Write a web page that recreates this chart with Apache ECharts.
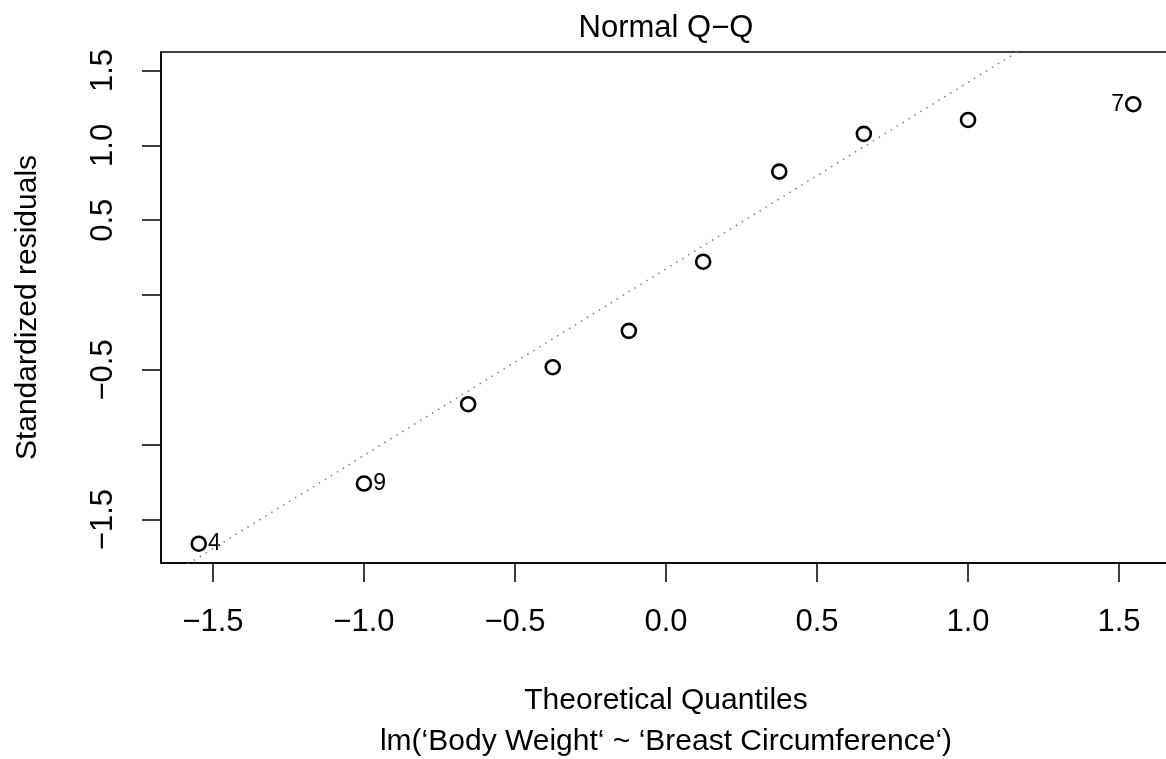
<!DOCTYPE html>
<html>
<head>
<meta charset="utf-8">
<script src="https://cdn.jsdelivr.net/npm/echarts@6/dist/echarts.min.js"></script>
<style>
  html, body { margin: 0; padding: 0; background: #fff; }
  #qq { width: 1166px; height: 759px; }
</style>
</head>
<body>
<div id="qq"></div>
<script>
// theoretical quantiles and standardized residuals
var theoQ = [-1.547, -1.000, -0.655, -0.375, -0.123, 0.123, 0.375, 0.655, 1.000, 1.547];
var stdRes = [-1.661, -1.259, -0.729, -0.482, -0.239, 0.223, 0.825, 1.077, 1.170, 1.275];
var pointLabels = ['4', '9', '', '', '', '', '', '', '', '7'];

// qqline end points (clipped by the plot box)
var lineX = [-1.8, 1.3];
var lineY = [-2.068, 1.795];

var xTicks = [-1.5, -1.0, -0.5, 0.0, 0.5, 1.0, 1.5];
var yTicks = [-1.5, -1.0, -0.5, 0.0, 0.5, 1.0, 1.5];
var yTickLabels = [-1.5, -0.5, 0.5, 1.0, 1.5];

var font = 'Liberation Sans';

function fmt(v) {
    return v.toFixed(1).replace('-', '\u2212');
}

var chart = echarts.init(document.getElementById('qq'));

var points = theoQ.map(function (x, i) {
    var lab = pointLabels[i];
    return {
        value: [x, stdRes[i]],
        label: {
            show: lab !== '',
            formatter: lab,
            // like plot.lm: put the id on the side toward the middle
            position: x > 0 ? 'left' : 'right'
        }
    };
});

var axisLine = { show: true, onZero: false, lineStyle: { color: '#000', width: 1.5 } };

var option = {
    animation: false,
    backgroundColor: '#fff',
    title: {
        text: 'Normal Q\u2212Q',
        left: 666,
        top: 13,
        padding: 0,
        textAlign: 'center',
        textStyle: { fontFamily: font, fontSize: 31, fontWeight: 'normal', color: '#000' }
    },
    grid: {
        left: 161,
        top: 52,
        width: 1010,
        height: 511,
        outerBoundsMode: 'none',
        containLabel: false,
        show: true,
        borderColor: '#000',
        borderWidth: 1.5
    },
    xAxis: {
        type: 'value',
        min: -1.672,
        max: 1.672,
        name: 'Theoretical Quantiles\nlm(\u2018Body Weight\u2018 ~ \u2018Breast Circumference\u2018)',
        nameLocation: 'middle',
        nameGap: 117,
        nameTextStyle: { fontFamily: font, fontSize: 30, color: '#000', lineHeight: 41 },
        axisLine: axisLine,
        splitLine: { show: false },
        axisTick: {
            show: true,
            inside: false,
            length: 19,
            customValues: xTicks,
            lineStyle: { color: '#000', width: 1.5 }
        },
        axisLabel: {
            customValues: xTicks,
            margin: 44,
            fontFamily: font,
            fontSize: 31,
            color: '#000',
            formatter: fmt
        }
    },
    yAxis: {
        type: 'value',
        min: -1.79,
        max: 1.624,
        name: 'Standardized residuals',
        nameLocation: 'middle',
        nameGap: 118,
        nameTextStyle: { fontFamily: font, fontSize: 30, color: '#000' },
        axisLine: axisLine,
        splitLine: { show: false },
        axisTick: {
            show: true,
            inside: false,
            length: 19,
            customValues: yTicks,
            lineStyle: { color: '#000', width: 1.5 }
        },
        axisLabel: {
            customValues: yTickLabels,
            rotate: 90,
            margin: 42,
            fontFamily: font,
            fontSize: 31,
            color: '#000',
            formatter: fmt
        }
    },
    series: [
        {
            type: 'line',
            data: lineX.map(function (x, i) { return [x, lineY[i]]; }),
            showSymbol: false,
            clip: true,
            lineStyle: { color: '#808080', width: 1.5, type: [1.5, 5.5] },
            silent: true
        },
        {
            type: 'scatter',
            data: points,
            symbol: 'circle',
            symbolSize: 14,
            itemStyle: { color: 'rgba(0,0,0,0)', borderColor: '#000', borderWidth: 2.6, opacity: 1 },
            label: {
                distance: 1,
                fontFamily: font,
                fontSize: 23,
                color: '#000'
            }
        }
    ]
};

chart.setOption(option);
</script>
</body>
</html>
